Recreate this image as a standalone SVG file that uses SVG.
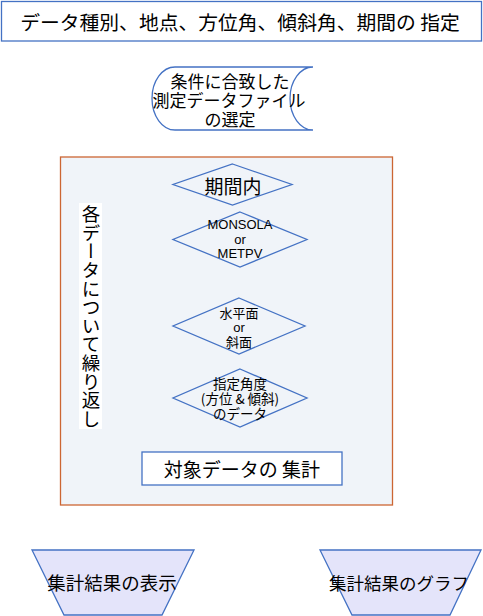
<svg xmlns="http://www.w3.org/2000/svg" width="483" height="616" viewBox="0 0 483 616">
<style>
.b{fill:#fff;stroke:#4472C4;stroke-width:1.3}
.d{fill:none;stroke:#4472C4;stroke-width:1.3}
.t{font-family:"Noto Sans CJK JP","Liberation Sans",sans-serif;fill:#000;text-anchor:middle;dominant-baseline:central}
.l{font-family:"Liberation Sans","Noto Sans CJK JP",sans-serif;fill:#000;text-anchor:middle;dominant-baseline:central}
.tz{fill:#E4E4FA;stroke:#4472C4;stroke-width:1.3}
</style>
<rect width="483" height="616" fill="#fff"/>
<g id="title">
<rect class="b" x="1.5" y="1.5" width="480" height="39.5"/>
<text class="t" x="240" y="21" font-size="19.8">データ種別、地点、方位角、傾斜角、期間の 指定</text>
</g>
<g id="stored">
<path class="b" d="M175,67 L313,67 A23,31.5 0 0 0 313,130 L175,130 A23,31.5 0 0 1 175,67 Z"/>
<text class="t" x="230" y="80" font-size="17">条件に合致した</text>
<text class="t" x="229" y="99" font-size="17">測定データファイル</text>
<text class="t" x="230" y="118" font-size="17">の選定</text>
</g>
<g id="loop">
<rect x="60.5" y="157" width="332" height="348" fill="#F0F4F9" stroke="#CC6633" stroke-width="1.3"/>
<rect x="79" y="203" width="23" height="226" fill="#fff"/>
<text x="91" y="205" font-size="18.5" writing-mode="tb" style="font-family:'Noto Sans CJK JP',sans-serif;fill:#000;letter-spacing:0.1px">各データについて繰り返し</text>
</g>
<g id="d1">
<polygon class="d" points="232.5,164 292,184.5 232.5,205 173,184.5"/>
<text class="t" x="233" y="185" font-size="19">期間内</text>
</g>
<g id="d2">
<polygon class="d" points="240,212 307,239.5 240,267 173,239.5"/>
<text class="l" x="240" y="224" font-size="13">MONSOLA</text>
<text class="l" x="240" y="239" font-size="13">or</text>
<text class="l" x="240" y="253" font-size="13">METPV</text>
</g>
<g id="d3">
<polygon class="d" points="239,298 305,326 239,354 173,326"/>
<text class="t" x="239" y="312" font-size="13">水平面</text>
<text class="l" x="239" y="327" font-size="13">or</text>
<text class="t" x="239" y="341" font-size="13">斜面</text>
</g>
<g id="d4">
<polygon class="d" points="240,369 307,398 240,427 173,398"/>
<text class="t" x="240" y="383" font-size="13.5">指定角度</text>
<text class="t" x="240" y="398" font-size="13.5">(方位 &amp; 傾斜)</text>
<text class="t" x="240" y="413" font-size="13.5">のデータ</text>
</g>
<g id="sum">
<rect class="b" x="142" y="452" width="200" height="33"/>
<text class="t" x="242" y="468" font-size="19">対象データの 集計</text>
</g>
<g id="show">
<polygon class="tz" points="32,550 194,550 162,615 64,615"/>
<text class="t" x="112" y="582" font-size="18.5">集計結果の表示</text>
</g>
<g id="graph">
<polygon class="tz" points="320,550 481,550 450,615 352,615"/>
<text class="t" x="399" y="582" font-size="17.5">集計結果のグラフ</text>
</g>
<g id="connectors"></g>
</svg>
